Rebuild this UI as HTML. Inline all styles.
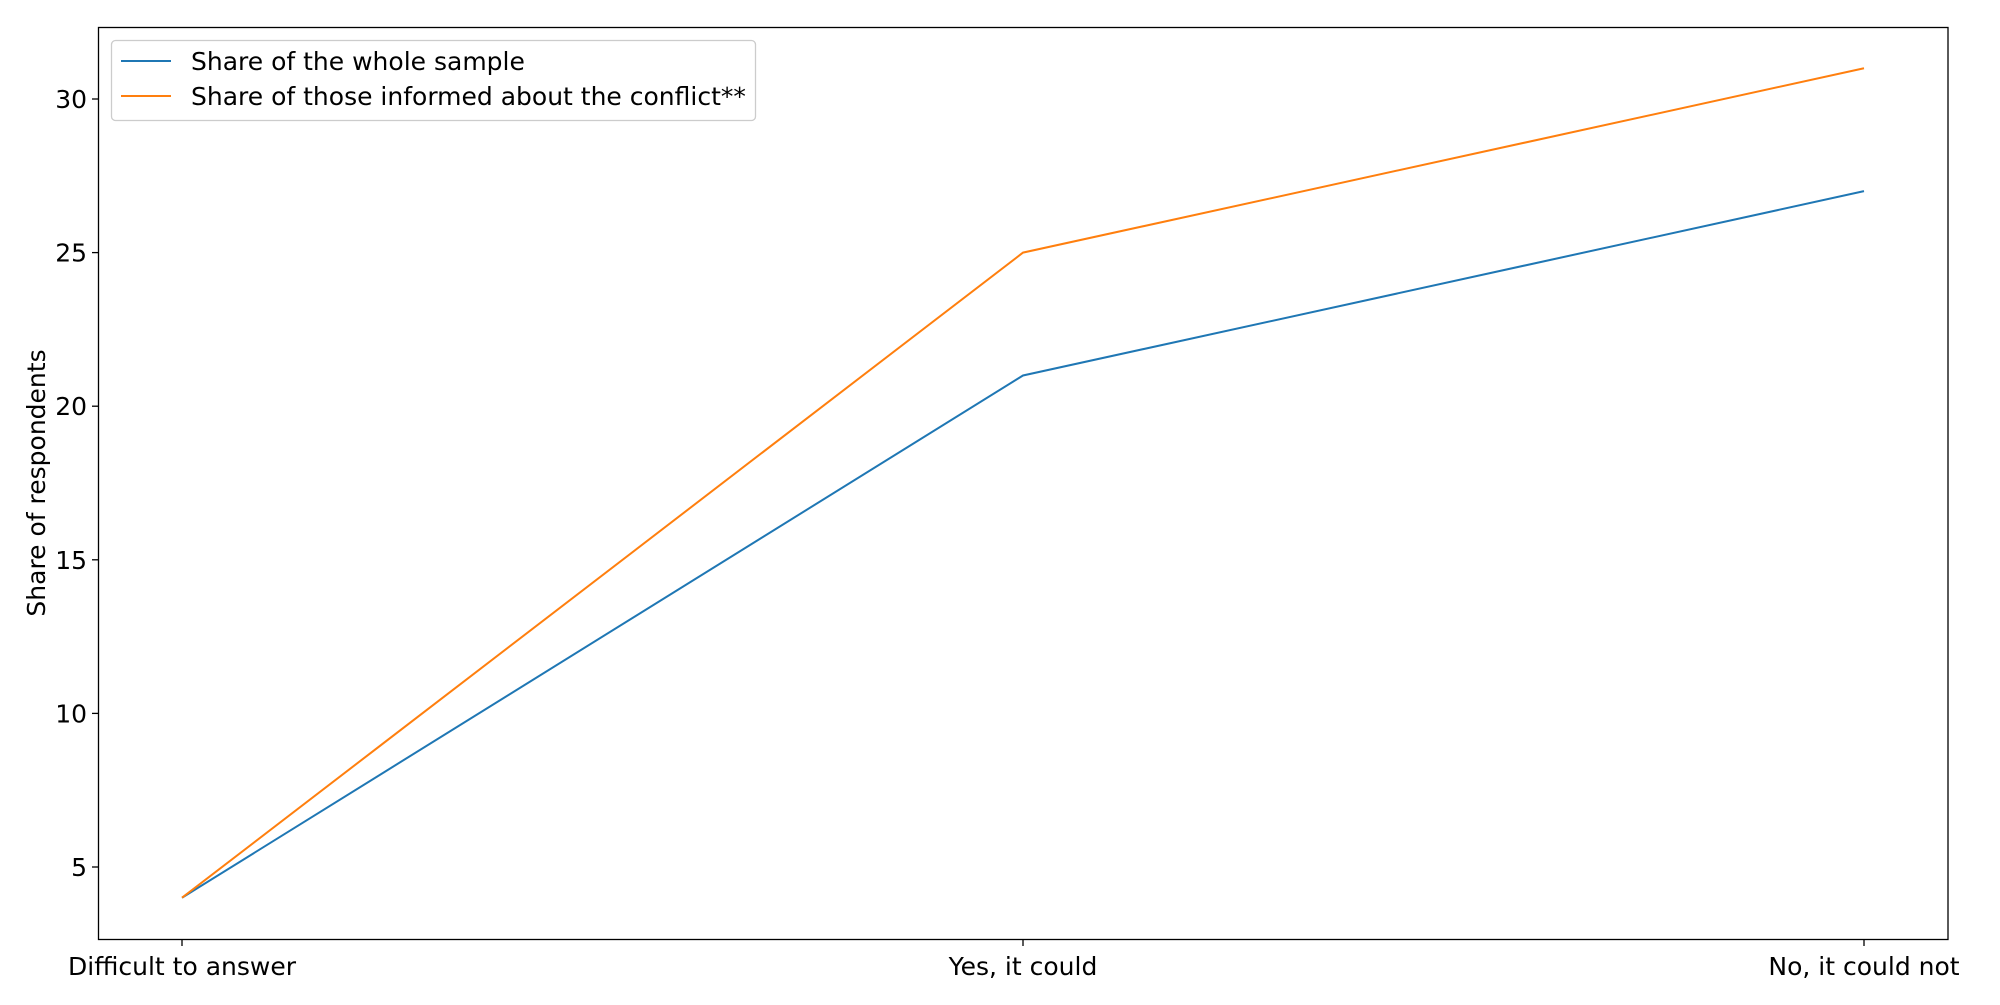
<!DOCTYPE html>
<html><head><meta charset="utf-8"><style>
html,body{margin:0;padding:0;background:#fff;}
svg text{font-family:"DejaVu Sans","Liberation Sans",sans-serif;fill:#000;}
</style></head><body>
<svg id="chart" width="2000" height="1000" xmlns="http://www.w3.org/2000/svg">
<rect x="0" y="0" width="2000" height="1000" fill="#fff"/>
<g id="plot"></g>
<rect x="98.5" y="27.5" width="1849.5" height="912" fill="none" stroke="#000" stroke-width="1.3"/>
<g id="yticks"></g><g id="xticks"></g>
<text x="45" y="483" font-size="25" text-anchor="middle" transform="rotate(-90 45 483)">Share of respondents</text>
<g>
<rect x="111.5" y="40.5" width="644" height="80" rx="4" fill="#fff" fill-opacity="0.8" stroke="#ccc" stroke-width="1.3"/>
<line x1="121" y1="61" x2="171" y2="61" stroke="#1f77b4" stroke-width="2"/>
<text x="191" y="70" font-size="25">Share of the whole sample</text>
<line x1="121" y1="96" x2="171" y2="96" stroke="#ff7f0e" stroke-width="2"/>
<text x="191" y="105" font-size="25">Share of those informed about the conflict**</text>
</g>
</svg>
<script>
const categories=["Difficult to answer","Yes, it could","No, it could not"];
const wholeSample=[4,21,27];
const informed=[4,25,31];
const yTicks=[5,10,15,20,25,30];
const NS="http://www.w3.org/2000/svg";
function xPos(i){return 182+i*(1864-182)/(categories.length-1);}
function yPos(v){return 867-(v-5)*(867-99)/25;}
function mk(tag,attrs,parent){const e=document.createElementNS(NS,tag);for(const k in attrs)e.setAttribute(k,attrs[k]);parent.appendChild(e);return e;}
const plot=document.getElementById('plot'),yt=document.getElementById('yticks'),xt=document.getElementById('xticks');
function series(vals,color,name){
 const p=mk('polyline',{points:vals.map((v,i)=>xPos(i)+','+yPos(v)).join(' '),fill:'none',stroke:color,'stroke-width':2},plot);
 
 
}
series(wholeSample,'#1f77b4','series-whole-sample');
series(informed,'#ff7f0e','series-informed');
yTicks.forEach(v=>{
 const y=yPos(v);
 const l=mk('line',{x1:92,x2:98.5,y1:y,y2:y,stroke:'#000','stroke-width':1.3},yt);
 
 
 const t=mk('text',{x:87,y:y+9,'font-size':25,'text-anchor':'end'},yt);
 t.textContent=v;
 
 
});
categories.forEach((c,i)=>{
 const x=xPos(i);
 const l=mk('line',{x1:x,x2:x,y1:939.5,y2:946,stroke:'#000','stroke-width':1.3},xt);
 
 
 const t=mk('text',{x:x,y:975,'font-size':25,'text-anchor':'middle'},xt);
 t.textContent=c;
 
 
});
</script>
</body></html>
